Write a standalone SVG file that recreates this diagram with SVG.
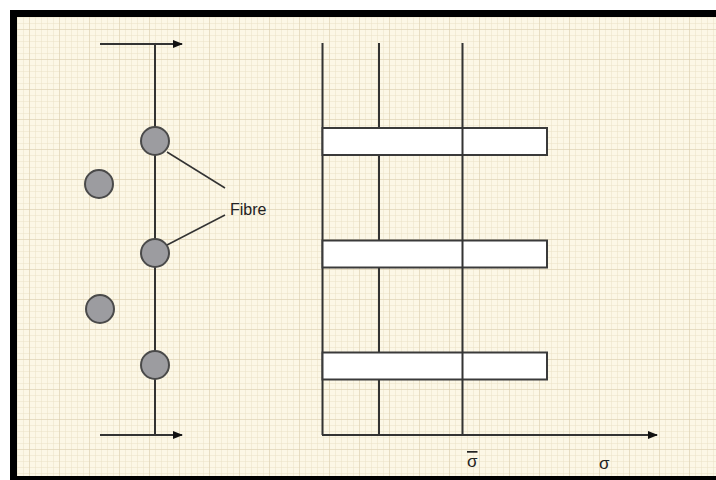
<svg xmlns="http://www.w3.org/2000/svg" width="716" height="480" viewBox="0 0 716 480">
<style>
.ax{stroke:#333;stroke-width:2;fill:none}
.fib{fill:#9c9ca0;stroke:#4a4a4a;stroke-width:2}
.bar{fill:#fff;stroke:#3a3a3a;stroke-width:2}
.lead{stroke:#333;stroke-width:1.5;fill:none}
.lbl{font-family:"Liberation Sans",Arial,sans-serif;fill:#222}
</style>
<defs>
<pattern id="minor" width="6" height="6" patternUnits="userSpaceOnUse">
<path d="M6 0V6M0 6H6" stroke="#ebe1c6" stroke-width="1" fill="none"/>
</pattern>
<pattern id="major" width="30" height="30" patternUnits="userSpaceOnUse">
<path d="M30 0V30M0 30H30" stroke="#dbcfb0" stroke-width="1" fill="none"/>
</pattern>
<marker id="arr" markerWidth="10" markerHeight="8" refX="9" refY="4" orient="auto" markerUnits="userSpaceOnUse">
<path d="M0 0L10 4L0 8Z" fill="#111"/>
</marker>
</defs>
<rect width="716" height="480" fill="#fff"/>
<rect x="13.5" y="13.5" width="720" height="466" fill="#fcf7e6"/>
<rect x="13.5" y="13.5" width="720" height="466" fill="url(#minor)"/>
<rect x="13.5" y="13.5" width="720" height="466" fill="url(#major)"/>
<rect x="13.5" y="13.5" width="720" height="466" fill="none" stroke="#000" stroke-width="7"/>
<g id="connectors">
<line class="ax" x1="155" y1="44" x2="155" y2="435"/>
<line class="ax" x1="100" y1="44" x2="182" y2="44" marker-end="url(#arr)"/>
<line class="ax" x1="100" y1="435" x2="182" y2="435" marker-end="url(#arr)"/>
<line class="lead" x1="167" y1="152" x2="225" y2="188"/>
<line class="lead" x1="167" y1="245" x2="225" y2="215"/>
<line class="ax" x1="322.5" y1="43" x2="322.5" y2="435"/>
<line class="ax" x1="379" y1="43" x2="379" y2="435"/>
<line class="ax" x1="322" y1="435" x2="657" y2="435" marker-end="url(#arr)"/>
</g>
<g id="bar1"><rect class="bar" x="322.5" y="128" width="224.5" height="27"/></g>
<g id="bar2"><rect class="bar" x="322.5" y="240.5" width="224.5" height="27"/></g>
<g id="bar3"><rect class="bar" x="322.5" y="352.5" width="224.5" height="27"/></g>
<g id="sigma-bar-line"><line class="ax" x1="462.5" y1="43" x2="462.5" y2="435"/></g>
<g id="fibre1"><circle class="fib" cx="155" cy="141" r="14"/></g>
<g id="fibre2"><circle class="fib" cx="99" cy="184" r="14"/></g>
<g id="fibre3"><circle class="fib" cx="155" cy="253" r="14"/></g>
<g id="fibre4"><circle class="fib" cx="100" cy="309" r="14"/></g>
<g id="fibre5"><circle class="fib" cx="155" cy="365" r="14"/></g>
<g id="label-fibre"><text class="lbl" x="230" y="215" font-size="16">Fibre</text></g>
<g id="label-sigma-bar"><text class="lbl" x="467" y="467" font-size="17" text-decoration="overline">σ</text></g>
<g id="label-sigma"><text class="lbl" x="599" y="469" font-size="17">σ</text></g>
</svg>
